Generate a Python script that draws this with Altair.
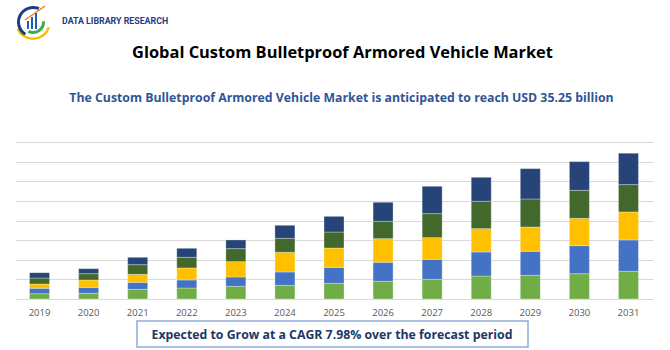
import altair as alt
import pandas as pd

# ---------------- data ----------------
years = ["2019", "2020", "2021", "2022", "2023", "2024", "2025",
         "2026", "2027", "2028", "2029", "2030", "2031"]
series_names = ["Segment A", "Segment B", "Segment C", "Segment D", "Segment E"]
seg_a = [1.29, 1.37, 2.34, 2.66, 3.07, 3.31, 3.79, 4.28, 4.76, 5.57, 5.73, 6.13, 6.70]
seg_b = [1.29, 1.45, 1.69, 1.94, 2.26, 3.23, 3.87, 4.60, 4.84, 5.81, 5.81, 6.78, 7.59]
seg_c = [1.05, 1.78, 1.94, 2.91, 3.71, 4.76, 4.68, 5.73, 5.25, 5.65, 5.89, 6.62, 6.78]
seg_d = [1.45, 1.53, 2.34, 2.58, 3.15, 3.39, 3.87, 4.20, 5.81, 6.62, 6.78, 6.78, 6.62]
seg_e = [1.29, 1.21, 1.78, 2.18, 2.10, 3.15, 3.79, 4.60, 6.62, 5.81, 7.34, 6.94, 7.59]
colors = ["#70AD47", "#4472C4", "#FFC000", "#43682B", "#264478"]
grid_values = [0, 4.75, 9.5, 14.25, 19.0, 23.75, 28.5, 33.25, 38.0]

logo_text = "DATA LIBRARY RESEARCH"
title_text = "Global Custom Bulletproof Armored Vehicle Market"
subtitle_text = "The Custom Bulletproof Armored Vehicle Market is anticipated to reach USD 35.25 billion"
footer_text = "Expected to Grow at a CAGR 7.98% over the forecast period"

rows = []
for i, (name, vals) in enumerate(zip(series_names, [seg_a, seg_b, seg_c, seg_d, seg_e])):
    for yr, v in zip(years, vals):
        rows.append({"year": yr, "segment": name, "value": v, "order": i})
df = pd.DataFrame(rows)

W, H = 638, 157
one = alt.Data(values=[{}])
FONT = "Open Sans"

bars = alt.Chart(df).mark_bar(size=20, stroke="white", strokeWidth=0.6, strokeOpacity=0.5).encode(
    x=alt.X("year:N", sort=years,
            scale=alt.Scale(paddingInner=0.59, paddingOuter=0.295),
            axis=alt.Axis(title=None, labelAngle=0, ticks=False, domain=False, grid=False,
                          labelFont=FONT, labelFontSize=9.5, labelColor="#595959",
                          labelPadding=8)),
    y=alt.Y("value:Q", stack="zero",
            scale=alt.Scale(domain=[0, 38], nice=False, zero=True),
            axis=alt.Axis(title=None, labels=False, ticks=False, domain=False, grid=True,
                          values=grid_values, gridColor="#D9D9D9", gridWidth=1)),
    color=alt.Color("segment:N", scale=alt.Scale(domain=series_names, range=colors), legend=None),
    order=alt.Order("order:Q", sort="ascending"),
)

title = alt.Chart(one).mark_text(
    font=FONT, fontSize=16.4, fontWeight="bold", color="#000000", align="center", baseline="alphabetic"
).encode(x=alt.value(327.5), y=alt.value(-84), text=alt.value(title_text))

subtitle = alt.Chart(one).mark_text(
    font=FONT, fontSize=12.3, fontWeight="bold", color="#2F5597", align="center", baseline="middle"
).encode(x=alt.value(326.5), y=alt.value(-44), text=alt.value(subtitle_text))

box = alt.Chart(one).mark_rect(fill="white", stroke="#8FAADC", strokeWidth=1.5).encode(
    x=alt.value(122), x2=alt.value(513), y=alt.value(179), y2=alt.value(205))

footer = alt.Chart(one).mark_text(
    font=FONT, fontSize=12.3, fontWeight="bold", color="#203864", align="center", baseline="middle"
).encode(x=alt.value(317), y=alt.value(192.5), text=alt.value(footer_text))

logo_txt = alt.Chart(one).mark_text(
    font="Roboto", fontSize=8.8, fontWeight="bold", color="#1F3C88",
    align="left", baseline="middle"
).encode(x=alt.value(47), y=alt.value(-121), text=alt.value(logo_text))

arc_navy = alt.Chart(one).mark_arc(theta=3.7, theta2=6.7, radius=16, radius2=13, color="#1F3C88").encode(
    x=alt.value(18), y=alt.value(-120))
arc_yellow = alt.Chart(one).mark_arc(theta=1.9, theta2=4.3, radius=18, radius2=15.5, color="#F2C200").encode(
    x=alt.value(18), y=alt.value(-120))
arc_green = alt.Chart(one).mark_arc(theta=1.5, theta2=3.6, radius=12, radius2=9, color="#3DAE49").encode(
    x=alt.value(18), y=alt.value(-120))
logo_bar1 = alt.Chart(one).mark_rect(color="#1F5FAF").encode(
    x=alt.value(12), x2=alt.value(14), y=alt.value(-121), y2=alt.value(-113))
logo_bar2 = alt.Chart(one).mark_rect(color="#1F5FAF").encode(
    x=alt.value(16), x2=alt.value(18), y=alt.value(-125), y2=alt.value(-113))
logo_bar3 = alt.Chart(one).mark_rect(color="#1F5FAF").encode(
    x=alt.value(20), x2=alt.value(22), y=alt.value(-129), y2=alt.value(-113))
logo_arrow = alt.Chart(one).mark_rule(color="#F07D1A", strokeWidth=1.5).encode(
    x=alt.value(10), x2=alt.value(30), y=alt.value(-122), y2=alt.value(-136))

chart = alt.layer(
    bars, title, subtitle, box, footer, logo_txt,
    arc_yellow, arc_navy, arc_green, logo_bar1, logo_bar2, logo_bar3, logo_arrow
).properties(
    width=W, height=H,
    autosize=alt.AutoSizeParams(type="none"),
    padding={"left": 15, "top": 142, "right": 17, "bottom": 51},
    background="white",
).configure_view(stroke=None)

chart.save("out.html", embed_options={"renderer": "svg", "actions": False})
